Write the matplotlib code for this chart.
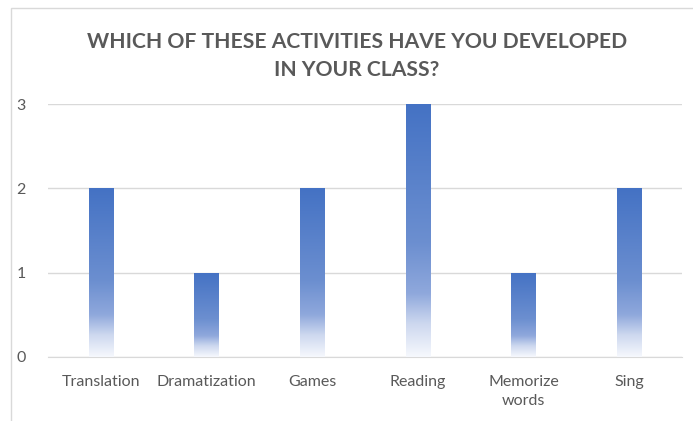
import matplotlib
matplotlib.use("Agg")
import matplotlib.pyplot as plt
import numpy as np
from matplotlib.colors import LinearSegmentedColormap
from matplotlib.patches import Rectangle

categories = ["Translation", "Dramatization", "Games", "Reading", "Memorize\nwords", "Sing"]
values = [2, 1, 2, 3, 1, 2]
yticks = [0, 1, 2, 3]
title = "WHICH OF THESE ACTIVITIES HAVE YOU DEVELOPED\nIN YOUR CLASS?"

plt.rcParams['font.family'] = ['Lato', 'DejaVu Sans']

fig = plt.figure(figsize=(6.93, 4.21), dpi=100)
# chart border (partially cropped as in reference)
fig.patches.append(Rectangle((11/693, -0.1), 1.2, (421-8)/421 + 0.1, transform=fig.transFigure,
                             fill=False, edgecolor='#d9d9d9', linewidth=1.0))
ax = fig.add_axes([48/693, 1-357/421, (682-48)/693, (357-104)/421])

x = np.arange(len(categories))
bars = ax.bar(x, values, width=0.23, color='none', edgecolor='none', zorder=3)

cmap = LinearSegmentedColormap.from_list("grad", [
    (0.0, (68/255, 114/255, 196/255)),
    (0.55, (108/255, 143/255, 208/255)),
    (0.75, (143/255, 168/255, 220/255)),
    (0.87, (205/255, 216/255, 239/255)),
    (1.0, (246/255, 248/255, 253/255)),
])
grad = np.linspace(0, 1, 256).reshape(-1, 1)
for b in bars:
    x0, y0 = b.get_x(), b.get_y()
    w, h = b.get_width(), b.get_height()
    im = ax.imshow(grad, cmap=cmap, aspect='auto', extent=[x0, x0 + w, y0, y0 + h],
                   origin='upper', zorder=3, interpolation='bilinear')
    im.set_clip_path(b)

ax.set_xlim(-0.5, len(categories) - 0.5)
ax.set_ylim(0, 3)
ax.set_yticks(yticks)
ax.set_xticks(x)
ax.set_xticklabels(categories, fontsize=11.5, color='#595959', linespacing=1.45)
ax.set_yticklabels([str(v) for v in yticks], fontsize=11.5, color='#595959')
ax.tick_params(axis='both', length=0)
ax.tick_params(axis='x', pad=13)
ax.tick_params(axis='y', pad=16)
ax.yaxis.grid(True, color='#d9d9d9', linewidth=1.0, zorder=0)
ax.set_axisbelow(True)
for s in ['left', 'right', 'top']:
    ax.spines[s].set_visible(False)
ax.spines['bottom'].set_color('#d9d9d9')
ax.set_facecolor('none')

fig.text(357/693, 1-56/421, title, ha='center', va='center', fontsize=15.2,
         fontweight='bold', color='#595959', linespacing=1.55)

fig.savefig("out.png", dpi=100)
